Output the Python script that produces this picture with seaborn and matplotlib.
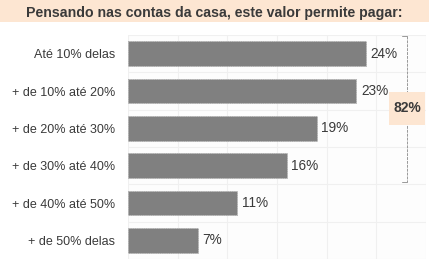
import pandas as pd
import matplotlib.pyplot as plt
import seaborn as sns
from matplotlib.patches import Rectangle

# Data
categories = ['Até 10% delas', '+ de 10% até 20%', '+ de 20% até 30%',
              '+ de 30% até 40%', '+ de 40% até 50%', '+ de 50% delas']
values = [24, 23, 19, 16, 11, 7]
total_label = '82%'
title = 'Pensando nas contas da casa, este valor permite pagar:'

df = pd.DataFrame({'faixa': categories, 'pct': values})

sns.set_theme(style='white')
plt.rcParams['font.family'] = ['Liberation Sans', 'DejaVu Sans']

W, H = 429, 263
fig = plt.figure(figsize=(W / 100, H / 100), dpi=100)
fig.patch.set_facecolor('white')

# peach title band
fig.patches.append(Rectangle((0, 1 - 22 / H), 1, 22 / H, transform=fig.transFigure,
                             facecolor='#fde6d2', edgecolor='none', zorder=0))
fig.text(0.5, 1 - 13 / H, title, ha='center', va='center', fontsize=10.2,
         fontweight='bold', color='#3a3a3a')

ax = fig.add_axes([128 / W, 1 - 259 / H, (426 - 128) / W, 224 / H])
ax.set_facecolor('#fdfdfd')
sns.barplot(data=df, x='pct', y='faixa', color='#808080', saturation=1,
            width=0.66, edgecolor='#a8a8a8', linewidth=0.6, ax=ax)
for p in ax.patches:
    p.set_linestyle(':')

ax.set_xlim(0, 30)
ax.set_ylim(5.5, -0.5)
ax.set_xticks(range(0, 31, 5))
ax.set_xticklabels([])
ax.set_yticks([i + 0.5 for i in range(-1, 6)], minor=True)
ax.grid(True, axis='x', color='#f0f0f0', linewidth=0.8)
ax.grid(True, axis='y', which='minor', color='#f0f0f0', linewidth=0.8)
ax.set_axisbelow(True)
ax.tick_params(axis='x', length=0)
ax.tick_params(axis='y', which='both', length=0, labelsize=9, labelcolor='#3a3a3a', pad=9)
ax.set_xlabel('')
ax.set_ylabel('')
for s in ax.spines.values():
    s.set_visible(False)

for i, v in enumerate(values):
    ax.text(v + 0.45, i, f'{v}%', va='center', ha='left', fontsize=9.8, color='#3a3a3a')

# bracket on the right with total box
bx = 407 / W
top, bot = 1 - 36 / H, 1 - 182 / H
fig.lines.append(plt.Line2D([bx, bx], [top, bot], transform=fig.transFigure,
                            color='#999999', linewidth=0.7, linestyle=(0, (3, 1))))
for yy in (top, bot):
    fig.lines.append(plt.Line2D([bx - 5 / W, bx], [yy, yy], transform=fig.transFigure,
                                color='#999999', linewidth=0.7))
fig.patches.append(Rectangle((389 / W, 1 - 125 / H), 36 / W, 33 / H, transform=fig.transFigure,
                             facecolor='#fde6d2', edgecolor='none', zorder=3))
fig.text(407 / W, 1 - 108.5 / H, total_label, ha='center', va='center', fontsize=10,
         fontweight='bold', color='#3a3a3a', zorder=4)

fig.savefig('out.png', dpi=100)
